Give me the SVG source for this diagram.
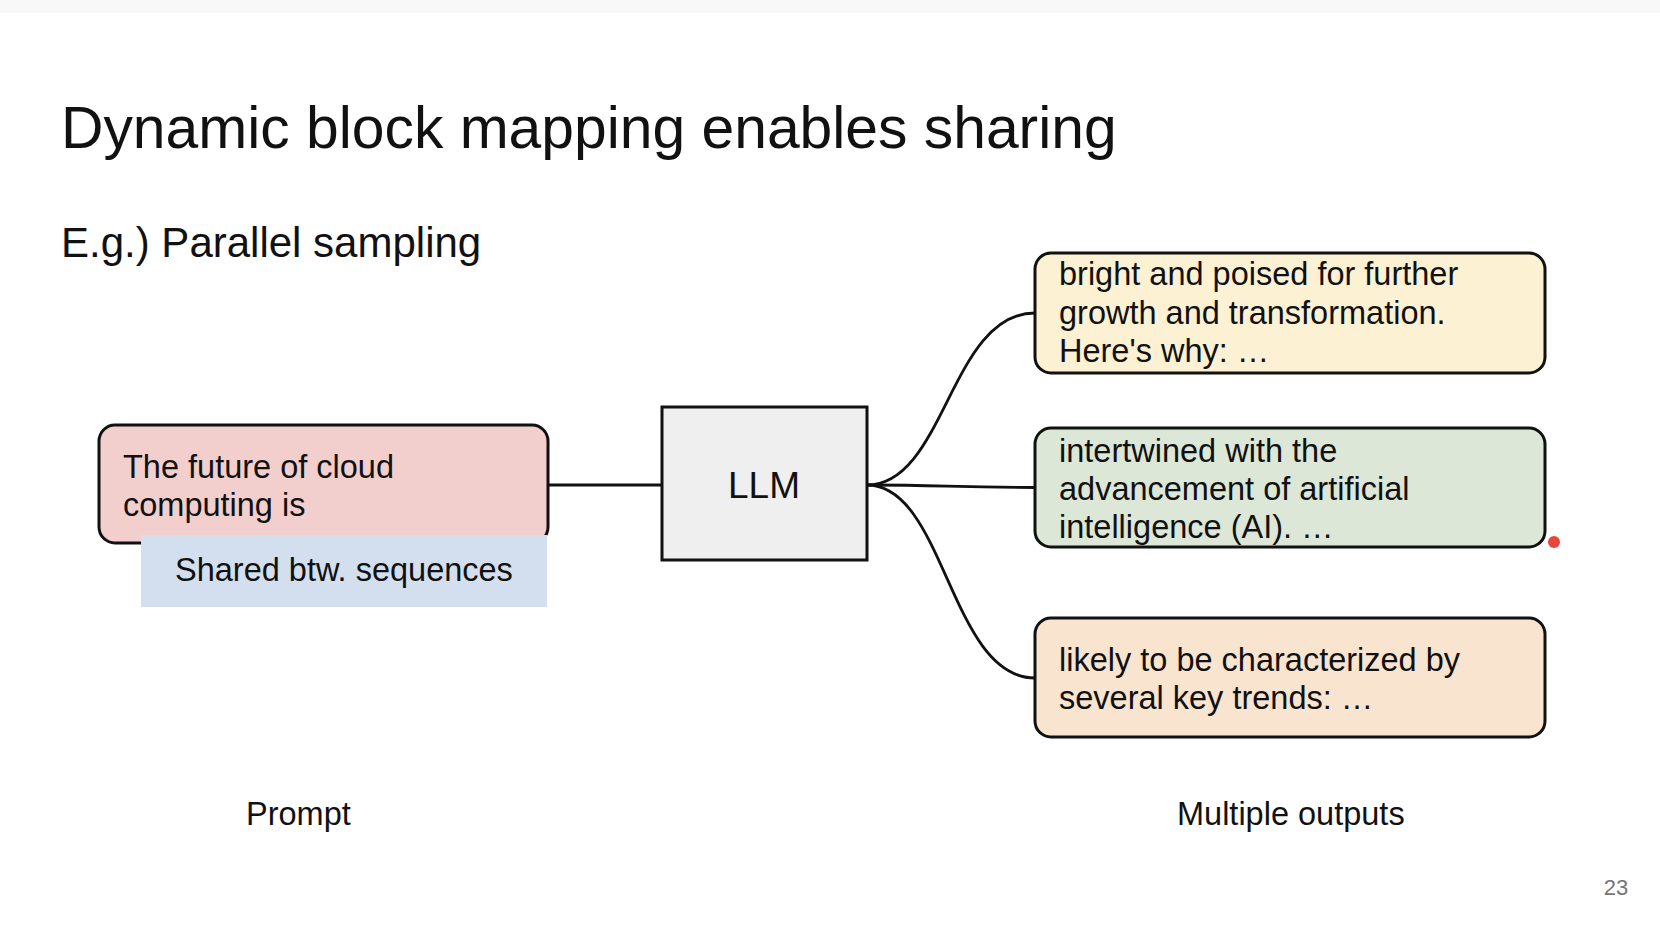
<svg xmlns="http://www.w3.org/2000/svg" width="1660" height="930" viewBox="0 0 1660 930">
  <style>
    text { font-family: "Liberation Sans", Arial, sans-serif; fill: #111111; }
    .body { font-size: 32.5px; }
    .box { stroke: #111; stroke-width: 3; }
    .conn { fill: none; stroke: #111; stroke-width: 2.8; }
  </style>
  <rect x="0" y="0" width="1660" height="930" fill="#ffffff"/>
  <rect x="0" y="0" width="1660" height="13" fill="#f8f8f8"/>

  <g id="title">
    <text x="61" y="148" font-size="58.8">Dynamic block mapping enables sharing</text>
    <text x="61" y="257" font-size="42">E.g.) Parallel sampling</text>
  </g>

  <g id="connectors">
    <path class="conn" d="M 549 485 H 662"/>
    <path class="conn" d="M 867 485 C 945 485, 950 313, 1035 313"/>
    <path class="conn" d="M 867 485 C 945 485, 950 487.5, 1035 487.5"/>
    <path class="conn" d="M 867 485 C 945 485, 950 678, 1035 678"/>
  </g>

  <g id="prompt">
    <rect class="box" x="99" y="425" width="449" height="118" rx="16" fill="#f2cfcd"/>
    <text class="body" x="123" y="478">The future of cloud</text>
    <text class="body" x="123" y="516">computing is</text>
  </g>

  <g id="shared">
    <rect x="141" y="535" width="406" height="72" fill="#d3dfee"/>
    <text class="body" x="175" y="581">Shared btw. sequences</text>
  </g>

  <g id="llm">
    <rect class="box" x="662" y="407" width="205" height="153" fill="#efefef"/>
    <text x="764" y="498" font-size="37" text-anchor="middle">LLM</text>
  </g>

  <g id="output1">
    <rect class="box" x="1035" y="253" width="510" height="120" rx="16" fill="#fdf1d4"/>
    <text class="body" x="1059" y="285">bright and poised for further</text>
    <text class="body" x="1059" y="324">growth and transformation.</text>
    <text class="body" x="1059" y="362">Here's why: …</text>
  </g>

  <g id="output2">
    <rect class="box" x="1035" y="428" width="510" height="119" rx="16" fill="#dce7d7"/>
    <text class="body" x="1059" y="462">intertwined with the</text>
    <text class="body" x="1059" y="500">advancement of artificial</text>
    <text class="body" x="1059" y="538">intelligence (AI). …</text>
  </g>

  <g id="output3">
    <rect class="box" x="1035" y="618" width="510" height="119" rx="16" fill="#f9e4d0"/>
    <text class="body" x="1059" y="671">likely to be characterized by</text>
    <text class="body" x="1059" y="709">several key trends: …</text>
  </g>

  <g id="labels">
    <text class="body" x="246" y="825">Prompt</text>
    <text class="body" x="1177" y="825">Multiple outputs</text>
  </g>

  <circle cx="1554" cy="542" r="6" fill="#e8453c"/>
  <text x="1616" y="895" font-size="22" text-anchor="middle" style="fill:#757575">23</text>
</svg>
